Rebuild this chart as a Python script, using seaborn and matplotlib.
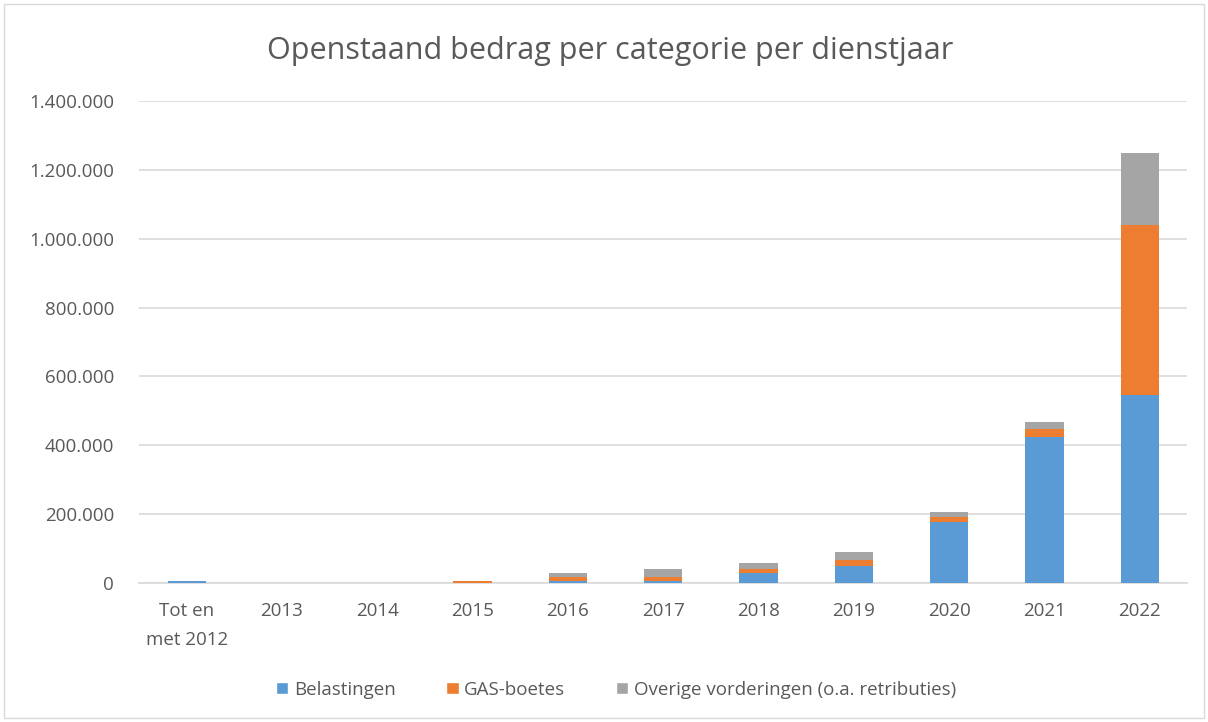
import numpy             as np
import matplotlib.pyplot as plt
import pandas            as pd
import seaborn           as sns
from matplotlib.patches import Patch
from matplotlib.ticker  import FuncFormatter, MultipleLocator

# Data
jaren        = ['Tot en\nmet 2012', '2013', '2014', '2015', '2016', '2017',
                '2018', '2019', '2020', '2021', '2022']
belastingen  = [7000, 0, 0, 0, 6000, 6000, 29000, 50000, 176000, 425000, 546000]
gas_boetes   = [0, 0, 0, 7000, 11000, 11000, 11000, 17000, 17000, 21000, 495000]
overige      = [0, 0, 0, 0, 12000, 24000, 17000, 24000, 13000, 22000, 209000]

series_names  = ['Belastingen', 'GAS-boetes', 'Overige vorderingen (o.a. retributies)']
series_colors = ['#5b9bd5', '#ed7d31', '#a5a5a5']

df = pd.DataFrame({'jaar'       : jaren,
                   'belastingen': belastingen,
                   'gas'        : gas_boetes,
                   'overige'    : overige})
# cumulative heights, drawn back to front to get stacked bars
df['cum_blue']   = df['belastingen']
df['cum_orange'] = df['cum_blue'] + df['gas']
df['cum_gray']   = df['cum_orange'] + df['overige']

sns.set_style('white')
plt.rcParams['font.family'] = ['Open Sans', 'DejaVu Sans']

fig = plt.figure(figsize = (12.08, 7.22), dpi = 100)
ax  = fig.add_axes([0.115, 0.1925, 0.868, 0.6675])

for col, color in zip(['cum_gray', 'cum_orange', 'cum_blue'], series_colors[::-1]):
    sns.barplot(data      = df,
                x         = 'jaar',
                y         = col,
                order     = jaren,
                color     = color,
                saturation= 1,
                width     = 0.4,
                edgecolor = 'none',
                zorder    = 3,
                ax        = ax)

ax.set_ylim(0, 1400000)
ax.yaxis.set_major_locator(MultipleLocator(200000))
ax.yaxis.set_major_formatter(FuncFormatter(lambda v, p: f'{int(v):,}'.replace(',', '.')))
ax.grid(axis = 'y', color = '#d9d9d9', linewidth = 1.2, zorder = 0)
ax.set_axisbelow(True)
for side in ['top', 'right', 'left']:
    ax.spines[side].set_visible(False)
ax.spines['bottom'].set_color('#d9d9d9')
ax.spines['bottom'].set_linewidth(1.2)
ax.spines['bottom'].set_zorder(1)
ax.tick_params(axis = 'y', length = 0, labelsize = 13.5, labelcolor = '#595959', pad = 18)
ax.tick_params(axis = 'x', length = 0, labelsize = 13.5, labelcolor = '#595959', pad = 14)
for lbl in ax.get_xticklabels():
    lbl.set_linespacing(1.75)
ax.set_xlabel('')
ax.set_ylabel('')

fig.text(0.505, 0.93, 'Openstaand bedrag per categorie per dienstjaar',
         ha = 'center', va = 'center', fontsize = 22, color = '#595959')

handles = [Patch(facecolor = c, label = n) for c, n in zip(series_colors, series_names)]
fig.legend(handles        = handles,
           loc            = 'center',
           bbox_to_anchor = (0.51, 0.045),
           ncols          = 3,
           frameon        = False,
           fontsize       = 13.5,
           labelcolor     = '#595959',
           handlelength   = 0.65,
           handleheight   = 0.65,
           handletextpad  = 0.3,
           columnspacing  = 2.7)

# light border around the whole chart area
fig.patches.append(plt.Rectangle((0.003, 0.005), 0.994, 0.99, transform = fig.transFigure,
                                 fill = False, edgecolor = '#d9d9d9', linewidth = 1))

plt.savefig('out.png', dpi = 100)
